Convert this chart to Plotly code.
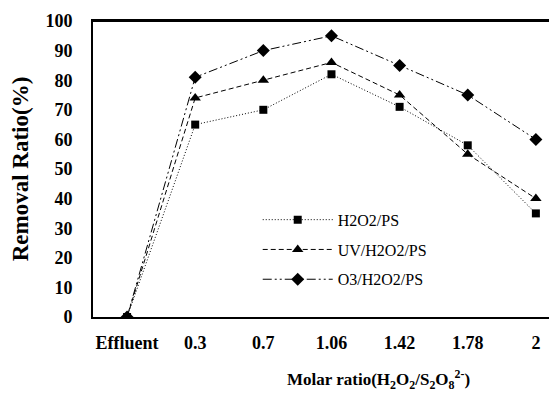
import plotly.graph_objects as go

categories = ["Effluent", "0.3", "0.7", "1.06", "1.42", "1.78", "2"]
h2o2_ps = [0, 65, 70, 82, 71, 58, 35]
uv_h2o2_ps = [0, 74, 80, 86, 75, 55, 40]
o3_h2o2_ps = [0, 81, 90, 95, 85, 75, 60]
y_ticks = [0, 10, 20, 30, 40, 50, 60, 70, 80, 90, 100]

SERIF = "Liberation Serif"

fig = go.Figure()
series = [
    ("H2O2/PS", h2o2_ps, "1px,2px", "square", 8),
    ("UV/H2O2/PS", uv_h2o2_ps, "5px,3px", "triangle-up", 10),
    ("O3/H2O2/PS", o3_h2o2_ps, "9px,3px,2px,3px,2px,3px", "diamond", 10),
]
for i, (name, vals, dash, sym, size) in enumerate(series):
    fig.add_trace(go.Scatter(
        x=categories, y=vals, name=name, mode="lines+markers",
        line=dict(color="black", width=1, dash=dash),
        marker=dict(symbol=sym, size=size, color="black"),
        legendgroup=f"g{i}",
    ))

# page has an 8px body margin; figure is sized/offset to compensate
fig.update_layout(
    width=549, height=388,
    margin=dict(l=85, r=0, t=13, b=79),
    paper_bgcolor="white", plot_bgcolor="white",
    font=dict(family=SERIF, color="black"),
    showlegend=True,
    legend=dict(
        x=0.355, y=0.386, xanchor="left", yanchor="top",
        font=dict(family=SERIF, size=16, color="black"),
        bgcolor="rgba(0,0,0,0)", tracegroupgap=6, itemwidth=70,
    ),
    xaxis=dict(
        type="category", range=[-0.5, 6.31],
        showline=True, linecolor="black", linewidth=2, mirror=True,
        showgrid=False, ticks="", zeroline=False,
        tickfont=dict(family=SERIF, size=18, color="black", weight="bold"),
        ticklabelstandoff=8,
    ),
    yaxis=dict(
        range=[0, 100], tickvals=y_ticks,
        showline=True, linecolor="black", linewidth=2, mirror=False,
        showgrid=False, ticks="", zeroline=False,
        tickfont=dict(family=SERIF, size=18, color="black", weight="bold"),
        ticklabelstandoff=15,
        title=dict(text="Removal Ratio(%)", standoff=16,
                   font=dict(family=SERIF, size=23, color="black", weight="bold")),
    ),
)

fig.add_shape(type="line", xref="paper", yref="paper", x0=0, x1=1, y0=1, y1=1,
              line=dict(color="black", width=2))

fig.add_annotation(
    text="<b>Molar ratio(H<sub>2</sub>O<sub>2</sub>/S<sub>2</sub>O<sub>8</sub><sup>2-</sup>)</b>",
    xref="paper", yref="paper", x=(378 - 93) / 464, y=-0.212,
    xanchor="center", yanchor="middle", showarrow=False,
    font=dict(family=SERIF, size=17, color="black"),
)

fig.write_html("out.html")
